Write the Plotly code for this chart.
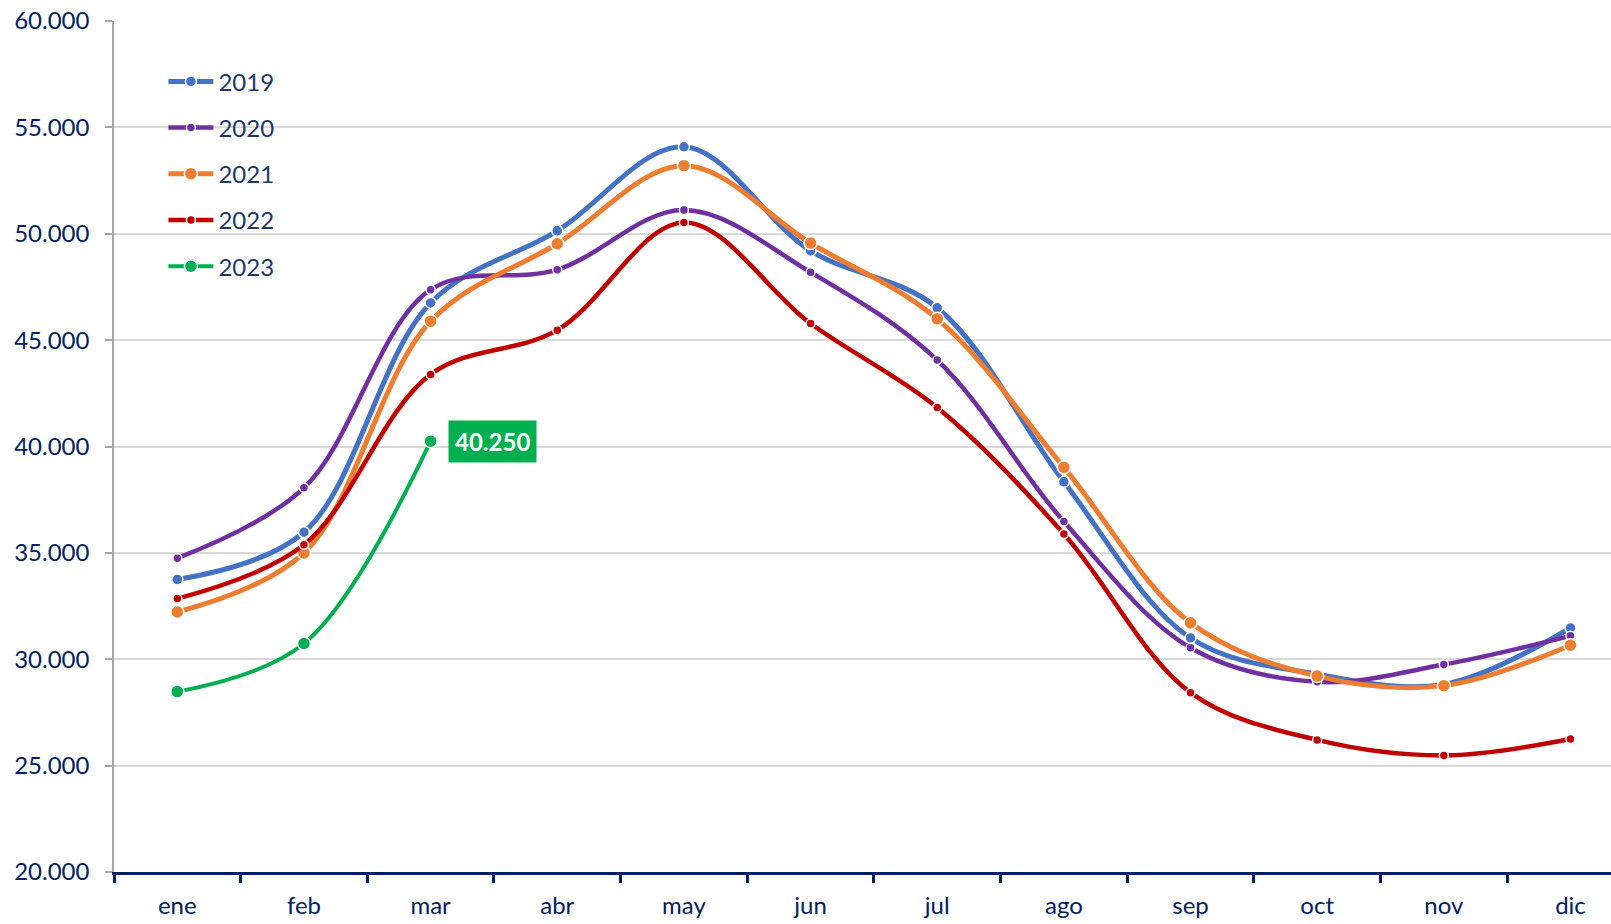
import plotly.graph_objects as go

months = ["ene", "feb", "mar", "abr", "may", "jun", "jul", "ago", "sep", "oct", "nov", "dic"]

y2019 = [33750, 35970, 46750, 50140, 54090, 49200, 46520, 38340, 31000, 29300, 28820, 31470]
y2020 = [34750, 38060, 47370, 48310, 51120, 48190, 44060, 36470, 30540, 28940, 29750, 31100]
y2021 = [32220, 35000, 45890, 49530, 53200, 49560, 46000, 39020, 31710, 29210, 28760, 30660]
y2022 = [32850, 35380, 43390, 45470, 50530, 45780, 41830, 35890, 28430, 26210, 25480, 26250]
y2023 = [28480, 30740, 40250]

series = [
    ("2019", y2019, "#4472C4", 11, 5),
    ("2020", y2020, "#7030A0", 9, 4.5),
    ("2021", y2021, "#ED7D31", 13, 5),
    ("2022", y2022, "#C00000", 9, 4.5),
    ("2023", y2023, "#00B050", 13, 4),
]

fig = go.Figure()
for name, vals, color, msize, lw in series:
    fig.add_trace(go.Scatter(
        x=months[:len(vals)], y=vals, name=name, legendgroup=name,
        mode="lines+markers",
        line=dict(color=color, width=lw, shape="spline", smoothing=1.0),
        marker=dict(color=color, size=msize, line=dict(color="white", width=1.5)),
    ))

last = y2023[-1]
label = f"{last:,.0f}".replace(",", ".")
fig.add_annotation(
    x=months[len(y2023) - 1], y=last, text=f"<b>{label}</b>", showarrow=False,
    xanchor="left", yanchor="middle", xshift=17,
    bgcolor="#00B050", borderpad=6,
    font=dict(family="Lato", size=24, color="white"),
)

fig.update_layout(
    width=1611, height=924,
    margin=dict(l=114, r=0, t=21, b=52),
    paper_bgcolor="white", plot_bgcolor="white",
    separators=",.",
    font=dict(family="Lato", size=24, color="#002060"),
    showlegend=True,
    legend=dict(
        x=0.033, y=0.955, xanchor="left", yanchor="top",
        bgcolor="rgba(0,0,0,0)", font=dict(family="Lato", size=24, color="#203864"),
        tracegroupgap=12, itemwidth=45,
    ),
    xaxis=dict(
        type="category", categoryorder="array", categoryarray=months,
        range=[-0.5, 11.32], showgrid=False,
        showline=True, linecolor="#002060", linewidth=3,
        ticks="outside", tickson="boundaries", tickcolor="#002060", tickwidth=3, ticklen=8,
        ticklabelstandoff=10,
        tickfont=dict(family="Lato", size=24, color="#002060"),
        automargin=False, fixedrange=True,
    ),
    yaxis=dict(
        range=[20000, 60000], dtick=5000, tickformat=",.0f",
        showgrid=True, gridcolor="#D9D9D9", gridwidth=1.5,
        showline=True, linecolor="#A6A6A6", linewidth=1.5,
        ticks="outside", tickcolor="#A6A6A6", ticklen=7, tickwidth=1.5,
        ticklabelstandoff=11,
        tickfont=dict(family="Lato", size=24, color="#002060"),
        zeroline=False, automargin=False,
    ),
)

fig.write_html(
    "out.html",
    config={"displayModeBar": False},
    post_script="document.body.style.margin='0';document.body.style.overflow='hidden';",
)
